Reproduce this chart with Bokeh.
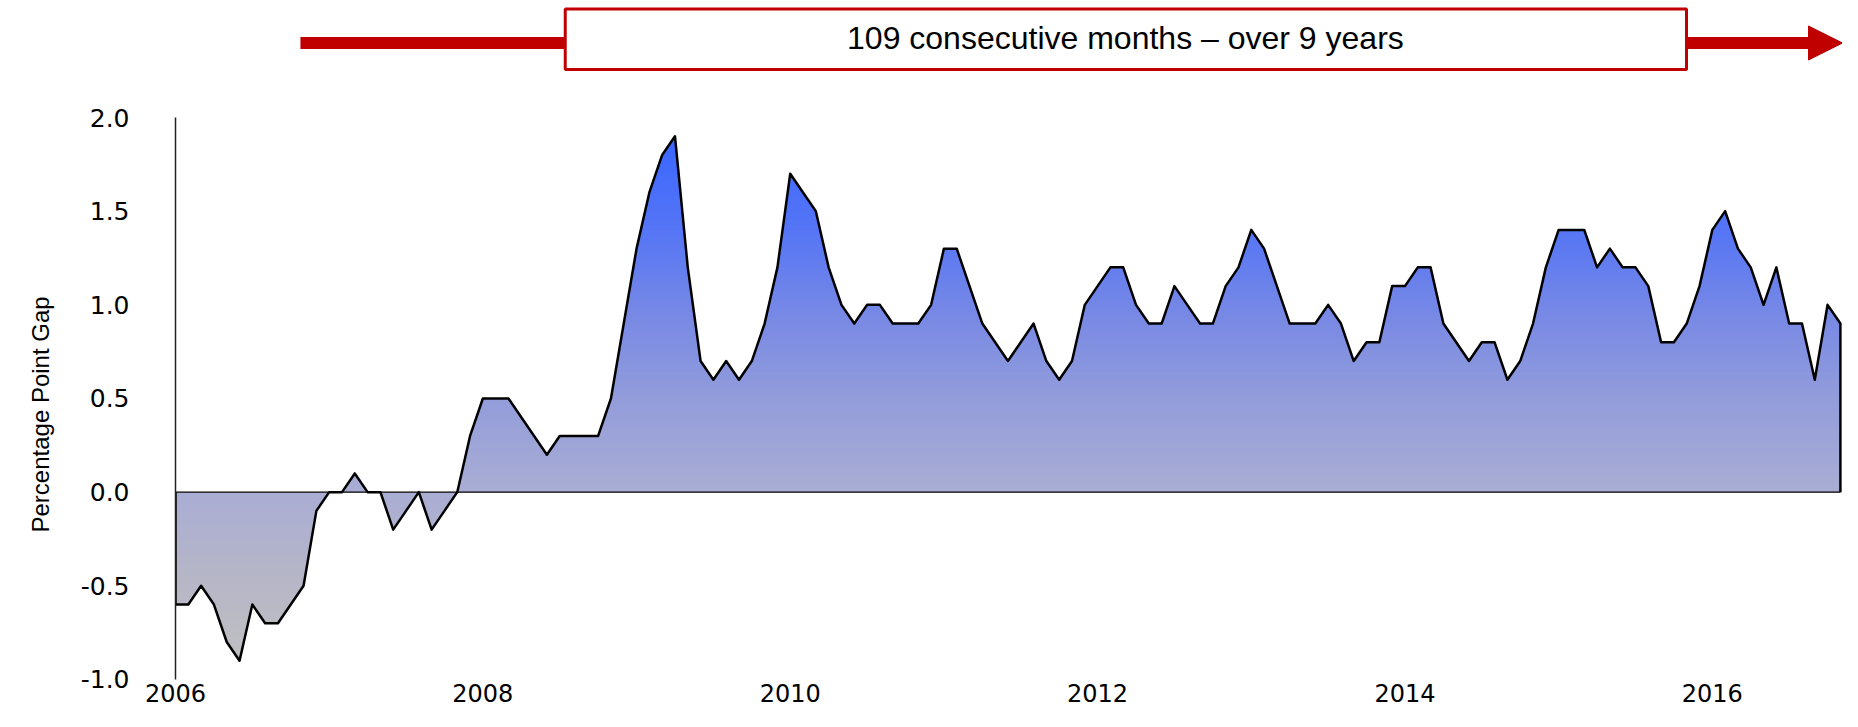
import numpy as np
from bokeh.plotting import figure
from bokeh.models import (Range1d, FixedTicker, PrintfTickFormatter, BoxAnnotation,
                          Label, Arrow, NormalHead, Title)
from bokeh.embed import file_html
from bokeh.resources import INLINE

# ---------------- data ----------------
start_year = 2006
# monthly percentage point gap, Jan 2006 .. Nov 2016
gap = [
    -0.6, -0.6, -0.5, -0.6, -0.8, -0.9, -0.6, -0.7, -0.7, -0.6, -0.5, -0.1,   # 2006
    0.0, 0.0, 0.1, 0.0, 0.0, -0.2, -0.1, 0.0, -0.2, -0.1, 0.0, 0.3,          # 2007
    0.5, 0.5, 0.5, 0.4, 0.3, 0.2, 0.3, 0.3, 0.3, 0.3, 0.5, 0.9,              # 2008
    1.3, 1.6, 1.8, 1.9, 1.2, 0.7, 0.6, 0.7, 0.6, 0.7, 0.9, 1.2,              # 2009
    1.7, 1.6, 1.5, 1.2, 1.0, 0.9, 1.0, 1.0, 0.9, 0.9, 0.9, 1.0,              # 2010
    1.3, 1.3, 1.1, 0.9, 0.8, 0.7, 0.8, 0.9, 0.7, 0.6, 0.7, 1.0,              # 2011
    1.1, 1.2, 1.2, 1.0, 0.9, 0.9, 1.1, 1.0, 0.9, 0.9, 1.1, 1.2,              # 2012
    1.4, 1.3, 1.1, 0.9, 0.9, 0.9, 1.0, 0.9, 0.7, 0.8, 0.8, 1.1,              # 2013
    1.1, 1.2, 1.2, 0.9, 0.8, 0.7, 0.8, 0.8, 0.6, 0.7, 0.9, 1.2,              # 2014
    1.4, 1.4, 1.4, 1.2, 1.3, 1.2, 1.2, 1.1, 0.8, 0.8, 0.9, 1.1,              # 2015
    1.4, 1.5, 1.3, 1.2, 1.0, 1.2, 0.9, 0.9, 0.6, 1.0, 0.9,                   # 2016
]
months = list(range(len(gap)))
x_years = [start_year + m / 12 for m in months]

x_ticks = [2006, 2008, 2010, 2012, 2014, 2016]
y_ticks = [-1.0, -0.5, 0.0, 0.5, 1.0, 1.5, 2.0]
y_label = "Percentage Point Gap"
banner_text = "109 consecutive months \u2013 over 9 years"

# ---------------- styles ----------------
RED = "#c00000"
grad_pos = [0.0, 0.161, 0.321, 0.5, 0.661, 0.821, 1.0]
grad_rgb = [(192, 192, 194), (182, 182, 200), (170, 174, 212), (147, 157, 219),
            (120, 137, 230), (86, 118, 246), (58, 102, 255)]

X_END = 2016.847
p = figure(width=1842, height=711, output_backend="svg", toolbar_location=None,
           x_range=Range1d(2006.0, X_END), y_range=Range1d(-1.0054, 2.6246),
           min_border_left=174, min_border_right=0, min_border_top=0, min_border_bottom=31)
p.xgrid.visible = False
p.ygrid.visible = False
p.outline_line_color = None
p.background_fill_color = "white"
p.border_fill_color = "white"

# x axis
p.xaxis.ticker = FixedTicker(ticks=x_ticks)
p.xaxis.formatter = PrintfTickFormatter(format="%d")
p.xaxis.axis_line_color = None
p.xaxis.major_tick_line_color = None
p.xaxis.minor_tick_line_color = None
p.xaxis.major_tick_out = 0
p.xaxis.major_tick_in = 0
p.xaxis.major_label_standoff = 3
p.xaxis.major_label_text_font = "DejaVu Sans"
p.xaxis.major_label_text_font_size = "24px"
p.xaxis.major_label_text_color = "black"

# y axis
p.yaxis.ticker = FixedTicker(ticks=y_ticks)
p.yaxis.formatter = PrintfTickFormatter(format="%.1f")
p.yaxis.bounds = (-1.0, 2.0)
p.yaxis.axis_line_color = "#222222"
p.yaxis.axis_line_width = 1.5
p.yaxis.major_tick_line_color = None
p.yaxis.minor_tick_line_color = None
p.yaxis.major_tick_out = 0
p.yaxis.major_tick_in = 0
p.yaxis.major_label_standoff = 46
p.yaxis.major_label_text_font = "DejaVu Sans"
p.yaxis.major_label_text_font_size = "25px"
p.yaxis.major_label_text_color = "black"

# y axis title as a side title (bottom-anchored with an offset, like the reference)
p.add_layout(Title(text=y_label, align="left", offset=148, standoff=48,
                   text_font="Liberation Sans", text_font_size="24px",
                   text_font_style="normal", text_color="black"), "left")

# gradient fill (vertical), masked to the area between 0 and the series
lo, hi = min(gap), max(gap)
N = 600
f = np.linspace(0, 1, N)
img = np.empty((N, 1), dtype=np.uint32)
view = img.view(dtype=np.uint8).reshape((N, 1, 4))
for c in range(3):
    view[:, 0, c] = np.interp(f, grad_pos, [rgb[c] for rgb in grad_rgb]).astype(np.uint8)
view[:, 0, 3] = 255
p.image_rgba(image=[img], x=x_years[0] + 0.003, y=lo,
             dw=(x_years[-1] - x_years[0]) - 0.008, dh=hi - lo)

upper = [max(v, 0.0) for v in gap]
lower = [min(v, 0.0) for v in gap]
p.varea(x=x_years, y1=upper, y2=hi + 0.05, fill_color="white", fill_alpha=1.0)
p.varea(x=x_years, y1=lo - 0.05, y2=lower, fill_color="white", fill_alpha=1.0)

# zero baseline and series outline
p.line(x=[x_years[0], x_years[-1]], y=[0, 0], line_color="black", line_width=1.3)
p.line(x=[x_years[0]] + x_years + [x_years[-1]], y=[0] + gap + [0],
       line_color="black", line_width=2.5, line_join="round")

# banner arrow and box
p.add_layout(Arrow(end=NormalHead(size=34, fill_color=RED, line_color=RED, line_width=1),
                   x_start=2006.813, y_start=2.3977, x_end=X_END, y_end=2.3977,
                   line_color=RED, line_width=12))
p.add_layout(BoxAnnotation(left=2008.536, right=2015.832, bottom=2.2562, top=2.5792,
                           fill_color="white", fill_alpha=1.0,
                           line_color=RED, line_width=3, line_alpha=1.0))
p.add_layout(Label(x=2012.181, y=2.427, text=banner_text, text_align="center",
                   text_baseline="middle", text_font="Liberation Sans",
                   text_font_size="32px", text_color="black"))

open("out.html", "w").write(file_html(p, INLINE))
